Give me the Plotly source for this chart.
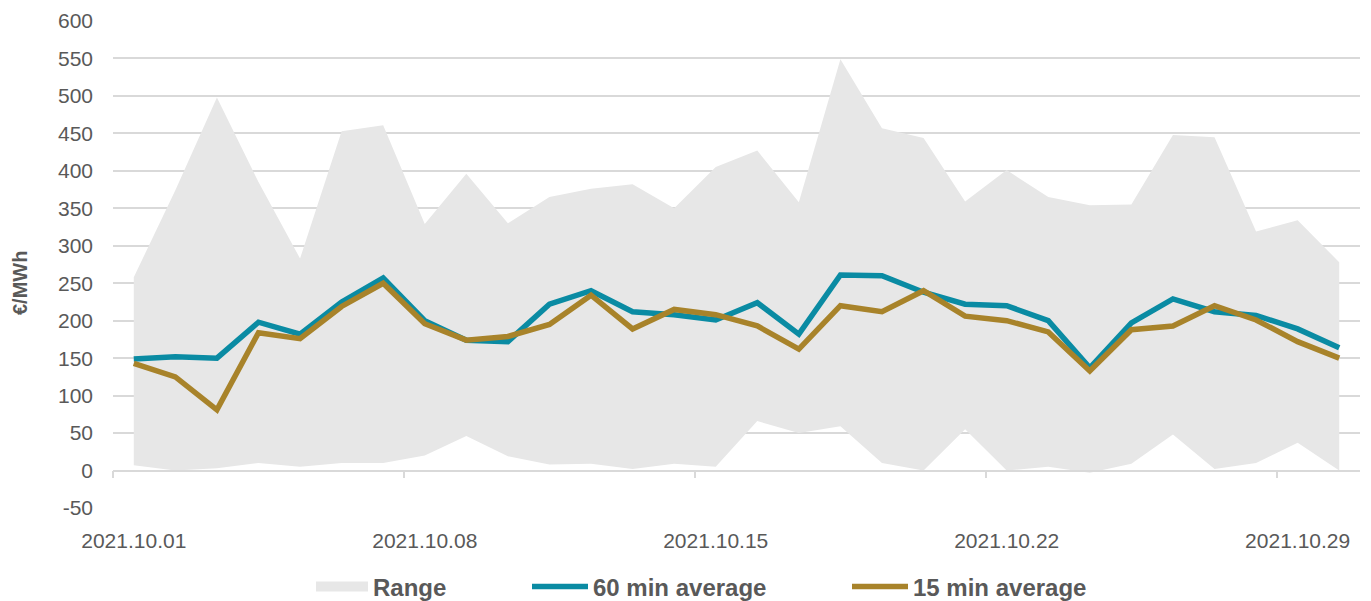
import plotly.graph_objects as go

dates = ["2021-10-%02d" % d for d in range(1, 31)]

range_min = [7, 0, 3, 10, 5, 10, 10, 20, 46, 19, 8, 9, 2, 9, 5,
             66, 50, 59, 10, 0, 55, 0, 5, -3, 9, 48, 2, 10, 37, 0]
range_max = [258, 374, 498, 385, 283, 453, 461, 329, 396, 330, 365, 376, 382, 350, 405,
             427, 358, 549, 457, 444, 359, 401, 365, 354, 355, 448, 445, 319, 334, 278]
avg_60 = [149, 152, 150, 198, 182, 225, 257, 200, 174, 172, 222, 240, 212, 208, 201,
          224, 182, 261, 260, 238, 222, 220, 200, 137, 197, 229, 212, 207, 189, 164]
avg_15 = [143, 125, 81, 184, 176, 219, 250, 196, 174, 179, 195, 234, 189, 215, 208,
          193, 162, 220, 212, 240, 206, 200, 185, 133, 188, 193, 220, 201, 172, 150]

tick_dates = ["2021-10-01", "2021-10-08", "2021-10-15", "2021-10-22", "2021-10-29"]
y_ticks = [-50, 0, 50, 100, 150, 200, 250, 300, 350, 400, 450, 500, 550, 600]
y_ticktext = [str(v) for v in y_ticks]

GREY_TXT = "#595959"
GRID = "#d9d9d9"
TEAL = "#0a8ba3"
GOLD = "#a8832a"
FILL = "#e7e7e7"
FONT = "Liberation Sans, Arial, sans-serif"

fig = go.Figure()

# shaded band between daily min and max
fig.add_trace(go.Scatter(x=dates, y=range_min, mode="lines", line=dict(width=0, color=FILL),
                         showlegend=False, hoverinfo="skip"))
fig.add_trace(go.Scatter(x=dates, y=range_max, mode="lines", line=dict(width=0, color=FILL),
                         fill="tonexty", fillcolor=FILL, name="Range", showlegend=False))
# legend swatch for the band (thicker than the default fill icon)
fig.add_trace(go.Scatter(x=[dates[0]], y=[None], mode="lines", line=dict(width=10, color=FILL),
                         name="Range", legend="legend", hoverinfo="skip"))
fig.add_trace(go.Scatter(x=dates, y=avg_60, mode="lines", line=dict(width=5.5, color=TEAL),
                         name="60 min average", legend="legend2"))
fig.add_trace(go.Scatter(x=dates, y=avg_15, mode="lines", line=dict(width=5.5, color=GOLD),
                         name="15 min average", legend="legend3"))

leg_common = dict(orientation="h", yanchor="middle", y=-0.162, xanchor="left",
                  font=dict(family=FONT, size=24, color=GREY_TXT, weight="bold"),
                  bgcolor="rgba(0,0,0,0)")

# page body has an 8px margin, so the figure is sized to end at the window edge
fig.update_layout(
    width=1363, height=593,
    margin=dict(l=105, r=11, t=13, b=93, autoexpand=False),
    paper_bgcolor="white", plot_bgcolor="white",
    font=dict(family=FONT, color=GREY_TXT),
    legend=dict(x=(317 - 6 - 113) / 1247, itemwidth=52, **leg_common),
    legend2=dict(x=(533 - 6 - 113) / 1247, itemwidth=56, **leg_common),
    legend3=dict(x=(853 - 6 - 113) / 1247, itemwidth=56, **leg_common),
    xaxis=dict(
        type="date",
        range=["2021-09-30 12:00", "2021-10-30 12:00"],
        tickvals=tick_dates,
        tickformat="%Y.%m.%d",
        ticks="",
        showgrid=False,
        zeroline=False,
        showline=True, linecolor=GRID, linewidth=1.5,
        anchor="free", position=50 / 650,
        ticklabelstandoff=52,
        tickfont=dict(size=21, color=GREY_TXT),
        minor=dict(ticks="outside", ticklen=7, tickcolor=GRID, tickwidth=1.5,
                   tick0="2021-09-30 12:00", dtick=7 * 86400000, showgrid=False),
    ),
    yaxis=dict(
        range=[-50, 600],
        tickmode="array", tickvals=y_ticks, ticktext=y_ticktext,
        showgrid=True, gridcolor=GRID, gridwidth=1.5,
        zeroline=False,
        ticklabelstandoff=19,
        tickfont=dict(size=21, color=GREY_TXT),
    ),
    annotations=[dict(text="<b>€/MWh</b>", textangle=-90, xref="paper", yref="paper",
                      x=(20 - 113) / 1247, y=(508 - 283) / 487, showarrow=False,
                      font=dict(size=20, color=GREY_TXT), xanchor="center", yanchor="middle")],
)

fig.write_html("out.html")
